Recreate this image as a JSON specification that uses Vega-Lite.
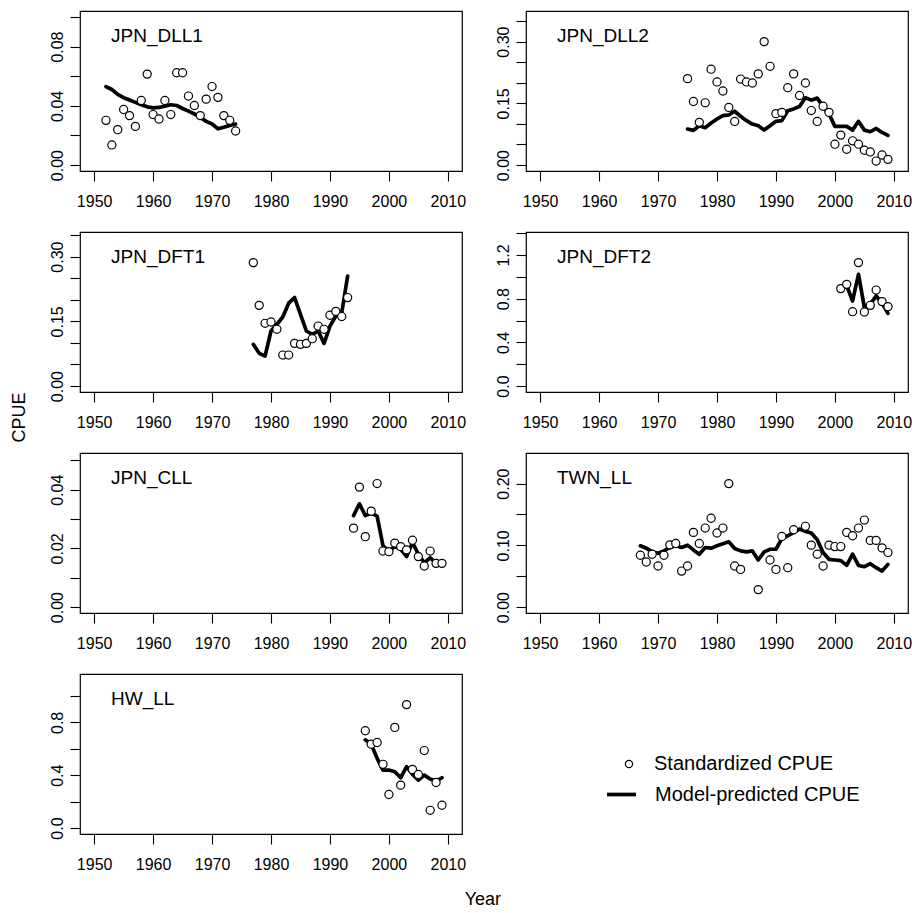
{
  "$schema": "https://vega.github.io/schema/vega-lite/v6.json",
  "padding": {"left": 11, "top": 10, "right": 5, "bottom": 5},
  "background": "white",
  "config": {
    "font": "Liberation Sans",
    "view": {"stroke": "black", "strokeWidth": 1.2},
    "axis": {"domain": false, "grid": false, "ticks": true, "tickColor": "black", "tickSize": 10, "tickWidth": 1.1, "labelColor": "black", "labelFontSize": 16, "labelFont": "Liberation Sans", "title": null, "labelOverlap": false, "labelFlush": false},
    "axisY": {"labelAngle": 270, "labelAlign": "center", "labelBaseline": "alphabetic", "labelPadding": 8},
    "axisX": {"labelBaseline": "alphabetic", "labelPadding": 25, "labelAngle": 0, "labelAlign": "center"},
    "title": {"fontWeight": "normal", "color": "black", "font": "Liberation Sans"},
    "legend": {"title": null, "padding": 0, "labelFontSize": 20, "labelFont": "Liberation Sans", "labelColor": "black", "labelLimit": 0, "symbolOpacity": 1}
  },
  "datasets": {
    "cpue": [
      {"fleet": "JPN_DLL1", "year": 1952, "obs": 0.0302, "pred": 0.053},
      {"fleet": "JPN_DLL1", "year": 1953, "obs": 0.0136, "pred": 0.051},
      {"fleet": "JPN_DLL1", "year": 1954, "obs": 0.0239, "pred": 0.0477},
      {"fleet": "JPN_DLL1", "year": 1955, "obs": 0.0375, "pred": 0.0455},
      {"fleet": "JPN_DLL1", "year": 1956, "obs": 0.0334, "pred": 0.0439},
      {"fleet": "JPN_DLL1", "year": 1957, "obs": 0.0261, "pred": 0.0423},
      {"fleet": "JPN_DLL1", "year": 1958, "obs": 0.0436, "pred": 0.0407},
      {"fleet": "JPN_DLL1", "year": 1959, "obs": 0.0614, "pred": 0.0393},
      {"fleet": "JPN_DLL1", "year": 1960, "obs": 0.0341, "pred": 0.0386},
      {"fleet": "JPN_DLL1", "year": 1961, "obs": 0.0311, "pred": 0.0389},
      {"fleet": "JPN_DLL1", "year": 1962, "obs": 0.0436, "pred": 0.0398},
      {"fleet": "JPN_DLL1", "year": 1963, "obs": 0.0341, "pred": 0.0407},
      {"fleet": "JPN_DLL1", "year": 1964, "obs": 0.0623, "pred": 0.0402},
      {"fleet": "JPN_DLL1", "year": 1965, "obs": 0.0623, "pred": 0.0382},
      {"fleet": "JPN_DLL1", "year": 1966, "obs": 0.0466, "pred": 0.0364},
      {"fleet": "JPN_DLL1", "year": 1967, "obs": 0.0402, "pred": 0.0345},
      {"fleet": "JPN_DLL1", "year": 1968, "obs": 0.0334, "pred": 0.0323},
      {"fleet": "JPN_DLL1", "year": 1969, "obs": 0.0445, "pred": 0.0295},
      {"fleet": "JPN_DLL1", "year": 1970, "obs": 0.053, "pred": 0.0277},
      {"fleet": "JPN_DLL1", "year": 1971, "obs": 0.0457, "pred": 0.0245},
      {"fleet": "JPN_DLL1", "year": 1972, "obs": 0.0334, "pred": 0.0255},
      {"fleet": "JPN_DLL1", "year": 1973, "obs": 0.0302, "pred": 0.0268},
      {"fleet": "JPN_DLL1", "year": 1974, "obs": 0.023, "pred": 0.0277},

      {"fleet": "JPN_DLL2", "year": 1975, "obs": 0.21, "pred": 0.0875},
      {"fleet": "JPN_DLL2", "year": 1976, "obs": 0.1545, "pred": 0.0842},
      {"fleet": "JPN_DLL2", "year": 1977, "obs": 0.1038, "pred": 0.0956},
      {"fleet": "JPN_DLL2", "year": 1978, "obs": 0.1513, "pred": 0.0907},
      {"fleet": "JPN_DLL2", "year": 1979, "obs": 0.233, "pred": 0.1022},
      {"fleet": "JPN_DLL2", "year": 1980, "obs": 0.202, "pred": 0.112},
      {"fleet": "JPN_DLL2", "year": 1981, "obs": 0.18, "pred": 0.1202},
      {"fleet": "JPN_DLL2", "year": 1982, "obs": 0.14, "pred": 0.1218},
      {"fleet": "JPN_DLL2", "year": 1983, "obs": 0.106, "pred": 0.1308},
      {"fleet": "JPN_DLL2", "year": 1984, "obs": 0.209, "pred": 0.1186},
      {"fleet": "JPN_DLL2", "year": 1985, "obs": 0.202, "pred": 0.1079},
      {"fleet": "JPN_DLL2", "year": 1986, "obs": 0.1995, "pred": 0.0997},
      {"fleet": "JPN_DLL2", "year": 1987, "obs": 0.2216, "pred": 0.0957},
      {"fleet": "JPN_DLL2", "year": 1988, "obs": 0.3, "pred": 0.085},
      {"fleet": "JPN_DLL2", "year": 1989, "obs": 0.24, "pred": 0.0957},
      {"fleet": "JPN_DLL2", "year": 1990, "obs": 0.125, "pred": 0.1063},
      {"fleet": "JPN_DLL2", "year": 1991, "obs": 0.128, "pred": 0.1079},
      {"fleet": "JPN_DLL2", "year": 1992, "obs": 0.188, "pred": 0.132},
      {"fleet": "JPN_DLL2", "year": 1993, "obs": 0.2216, "pred": 0.1365},
      {"fleet": "JPN_DLL2", "year": 1994, "obs": 0.169, "pred": 0.1422},
      {"fleet": "JPN_DLL2", "year": 1995, "obs": 0.1995, "pred": 0.1635},
      {"fleet": "JPN_DLL2", "year": 1996, "obs": 0.1325, "pred": 0.1578},
      {"fleet": "JPN_DLL2", "year": 1997, "obs": 0.106, "pred": 0.1627},
      {"fleet": "JPN_DLL2", "year": 1998, "obs": 0.143, "pred": 0.1422},
      {"fleet": "JPN_DLL2", "year": 1999, "obs": 0.128, "pred": 0.124},
      {"fleet": "JPN_DLL2", "year": 2000, "obs": 0.0507, "pred": 0.094},
      {"fleet": "JPN_DLL2", "year": 2001, "obs": 0.0728, "pred": 0.094},
      {"fleet": "JPN_DLL2", "year": 2002, "obs": 0.0384, "pred": 0.094},
      {"fleet": "JPN_DLL2", "year": 2003, "obs": 0.0589, "pred": 0.085},
      {"fleet": "JPN_DLL2", "year": 2004, "obs": 0.0507, "pred": 0.1063},
      {"fleet": "JPN_DLL2", "year": 2005, "obs": 0.036, "pred": 0.085},
      {"fleet": "JPN_DLL2", "year": 2006, "obs": 0.0319, "pred": 0.081},
      {"fleet": "JPN_DLL2", "year": 2007, "obs": 0.0098, "pred": 0.0891},
      {"fleet": "JPN_DLL2", "year": 2008, "obs": 0.0245, "pred": 0.0793},
      {"fleet": "JPN_DLL2", "year": 2009, "obs": 0.0139, "pred": 0.072},

      {"fleet": "JPN_DFT1", "year": 1977, "obs": 0.286, "pred": 0.0967},
      {"fleet": "JPN_DFT1", "year": 1978, "obs": 0.187, "pred": 0.0758},
      {"fleet": "JPN_DFT1", "year": 1979, "obs": 0.1454, "pred": 0.0696},
      {"fleet": "JPN_DFT1", "year": 1980, "obs": 0.1485, "pred": 0.1276},
      {"fleet": "JPN_DFT1", "year": 1981, "obs": 0.1315, "pred": 0.143},
      {"fleet": "JPN_DFT1", "year": 1982, "obs": 0.0719, "pred": 0.16},
      {"fleet": "JPN_DFT1", "year": 1983, "obs": 0.0719, "pred": 0.192},
      {"fleet": "JPN_DFT1", "year": 1984, "obs": 0.099, "pred": 0.205},
      {"fleet": "JPN_DFT1", "year": 1985, "obs": 0.0967, "pred": 0.166},
      {"fleet": "JPN_DFT1", "year": 1986, "obs": 0.099, "pred": 0.1276},
      {"fleet": "JPN_DFT1", "year": 1987, "obs": 0.1098, "pred": 0.12},
      {"fleet": "JPN_DFT1", "year": 1988, "obs": 0.139, "pred": 0.1276},
      {"fleet": "JPN_DFT1", "year": 1989, "obs": 0.1315, "pred": 0.099},
      {"fleet": "JPN_DFT1", "year": 1990, "obs": 0.164, "pred": 0.139},
      {"fleet": "JPN_DFT1", "year": 1991, "obs": 0.173, "pred": 0.162},
      {"fleet": "JPN_DFT1", "year": 1992, "obs": 0.161, "pred": 0.17},
      {"fleet": "JPN_DFT1", "year": 1993, "obs": 0.205, "pred": 0.255},

      {"fleet": "JPN_DFT2", "year": 2001, "obs": 0.892, "pred": 0.89},
      {"fleet": "JPN_DFT2", "year": 2002, "obs": 0.931, "pred": 0.92},
      {"fleet": "JPN_DFT2", "year": 2003, "obs": 0.681, "pred": 0.779},
      {"fleet": "JPN_DFT2", "year": 2004, "obs": 1.13, "pred": 1.023},
      {"fleet": "JPN_DFT2", "year": 2005, "obs": 0.678, "pred": 0.72},
      {"fleet": "JPN_DFT2", "year": 2006, "obs": 0.739, "pred": 0.75},
      {"fleet": "JPN_DFT2", "year": 2007, "obs": 0.879, "pred": 0.824},
      {"fleet": "JPN_DFT2", "year": 2008, "obs": 0.773, "pred": 0.76},
      {"fleet": "JPN_DFT2", "year": 2009, "obs": 0.727, "pred": 0.665},

      {"fleet": "JPN_CLL", "year": 1994, "obs": 0.0269, "pred": 0.0312},
      {"fleet": "JPN_CLL", "year": 1995, "obs": 0.0409, "pred": 0.0352},
      {"fleet": "JPN_CLL", "year": 1996, "obs": 0.024, "pred": 0.0312},
      {"fleet": "JPN_CLL", "year": 1997, "obs": 0.0327, "pred": 0.032},
      {"fleet": "JPN_CLL", "year": 1998, "obs": 0.0421, "pred": 0.031},
      {"fleet": "JPN_CLL", "year": 1999, "obs": 0.0191, "pred": 0.0209},
      {"fleet": "JPN_CLL", "year": 2000, "obs": 0.0189, "pred": 0.019},
      {"fleet": "JPN_CLL", "year": 2001, "obs": 0.0218, "pred": 0.0206},
      {"fleet": "JPN_CLL", "year": 2002, "obs": 0.0206, "pred": 0.0197},
      {"fleet": "JPN_CLL", "year": 2003, "obs": 0.0195, "pred": 0.0172},
      {"fleet": "JPN_CLL", "year": 2004, "obs": 0.0228, "pred": 0.022},
      {"fleet": "JPN_CLL", "year": 2005, "obs": 0.0172, "pred": 0.018},
      {"fleet": "JPN_CLL", "year": 2006, "obs": 0.014, "pred": 0.0151},
      {"fleet": "JPN_CLL", "year": 2007, "obs": 0.0191, "pred": 0.0168},
      {"fleet": "JPN_CLL", "year": 2008, "obs": 0.0149, "pred": 0.0151},
      {"fleet": "JPN_CLL", "year": 2009, "obs": 0.0149, "pred": 0.0149},

      {"fleet": "TWN_LL", "year": 1967, "obs": 0.0839, "pred": 0.0992},
      {"fleet": "TWN_LL", "year": 1968, "obs": 0.073, "pred": 0.0954},
      {"fleet": "TWN_LL", "year": 1969, "obs": 0.0856, "pred": 0.0894},
      {"fleet": "TWN_LL", "year": 1970, "obs": 0.0665, "pred": 0.0872},
      {"fleet": "TWN_LL", "year": 1971, "obs": 0.0839, "pred": 0.091},
      {"fleet": "TWN_LL", "year": 1972, "obs": 0.1008, "pred": 0.0965},
      {"fleet": "TWN_LL", "year": 1973, "obs": 0.103, "pred": 0.0992},
      {"fleet": "TWN_LL", "year": 1974, "obs": 0.0583, "pred": 0.0965},
      {"fleet": "TWN_LL", "year": 1975, "obs": 0.0665, "pred": 0.1003},
      {"fleet": "TWN_LL", "year": 1976, "obs": 0.121, "pred": 0.0926},
      {"fleet": "TWN_LL", "year": 1977, "obs": 0.103, "pred": 0.0856},
      {"fleet": "TWN_LL", "year": 1978, "obs": 0.128, "pred": 0.0965},
      {"fleet": "TWN_LL", "year": 1979, "obs": 0.1439, "pred": 0.0954},
      {"fleet": "TWN_LL", "year": 1980, "obs": 0.12, "pred": 0.0992},
      {"fleet": "TWN_LL", "year": 1981, "obs": 0.128, "pred": 0.1025},
      {"fleet": "TWN_LL", "year": 1982, "obs": 0.2, "pred": 0.1057},
      {"fleet": "TWN_LL", "year": 1983, "obs": 0.0665, "pred": 0.0948},
      {"fleet": "TWN_LL", "year": 1984, "obs": 0.061, "pred": 0.091},
      {"fleet": "TWN_LL", "year": 1985, "obs": null, "pred": 0.0894},
      {"fleet": "TWN_LL", "year": 1986, "obs": null, "pred": 0.091},
      {"fleet": "TWN_LL", "year": 1987, "obs": 0.0283, "pred": 0.0763},
      {"fleet": "TWN_LL", "year": 1988, "obs": null, "pred": 0.0894},
      {"fleet": "TWN_LL", "year": 1989, "obs": 0.0763, "pred": 0.0937},
      {"fleet": "TWN_LL", "year": 1990, "obs": 0.061, "pred": 0.0937},
      {"fleet": "TWN_LL", "year": 1991, "obs": 0.1144, "pred": 0.111},
      {"fleet": "TWN_LL", "year": 1992, "obs": 0.0638, "pred": 0.1155},
      {"fleet": "TWN_LL", "year": 1993, "obs": 0.1253, "pred": 0.121},
      {"fleet": "TWN_LL", "year": 1994, "obs": null, "pred": 0.1264},
      {"fleet": "TWN_LL", "year": 1995, "obs": 0.1308, "pred": 0.1226},
      {"fleet": "TWN_LL", "year": 1996, "obs": 0.1003, "pred": 0.12},
      {"fleet": "TWN_LL", "year": 1997, "obs": 0.0856, "pred": 0.109},
      {"fleet": "TWN_LL", "year": 1998, "obs": 0.0665, "pred": 0.0883},
      {"fleet": "TWN_LL", "year": 1999, "obs": 0.1003, "pred": 0.0774},
      {"fleet": "TWN_LL", "year": 2000, "obs": 0.098, "pred": 0.0763},
      {"fleet": "TWN_LL", "year": 2001, "obs": 0.098, "pred": 0.0752},
      {"fleet": "TWN_LL", "year": 2002, "obs": 0.121, "pred": 0.0676},
      {"fleet": "TWN_LL", "year": 2003, "obs": 0.1155, "pred": 0.0856},
      {"fleet": "TWN_LL", "year": 2004, "obs": 0.128, "pred": 0.0676},
      {"fleet": "TWN_LL", "year": 2005, "obs": 0.141, "pred": 0.0654},
      {"fleet": "TWN_LL", "year": 2006, "obs": 0.108, "pred": 0.0703},
      {"fleet": "TWN_LL", "year": 2007, "obs": 0.108, "pred": 0.0638},
      {"fleet": "TWN_LL", "year": 2008, "obs": 0.0959, "pred": 0.0583},
      {"fleet": "TWN_LL", "year": 2009, "obs": 0.0883, "pred": 0.0692},

      {"fleet": "HW_LL", "year": 1996, "obs": 0.7365, "pred": 0.668},
      {"fleet": "HW_LL", "year": 1997, "obs": 0.635, "pred": 0.635},
      {"fleet": "HW_LL", "year": 1998, "obs": 0.6476, "pred": 0.528},
      {"fleet": "HW_LL", "year": 1999, "obs": 0.4825, "pred": 0.439},
      {"fleet": "HW_LL", "year": 2000, "obs": 0.254, "pred": 0.439},
      {"fleet": "HW_LL", "year": 2001, "obs": 0.762, "pred": 0.427},
      {"fleet": "HW_LL", "year": 2002, "obs": 0.325, "pred": 0.381},
      {"fleet": "HW_LL", "year": 2003, "obs": 0.9346, "pred": 0.465},
      {"fleet": "HW_LL", "year": 2004, "obs": 0.444, "pred": 0.406},
      {"fleet": "HW_LL", "year": 2005, "obs": 0.406, "pred": 0.363},
      {"fleet": "HW_LL", "year": 2006, "obs": 0.5867, "pred": 0.401},
      {"fleet": "HW_LL", "year": 2007, "obs": 0.1346, "pred": 0.371},
      {"fleet": "HW_LL", "year": 2008, "obs": 0.345, "pred": 0.356},
      {"fleet": "HW_LL", "year": 2009, "obs": 0.1727, "pred": 0.381}
    ]
  },
  "data": {"name": "cpue"},
  "title": {"text": "Year", "orient": "bottom", "anchor": "middle", "frame": "bounds", "fontSize": 18, "baseline": "alphabetic", "offset": 32, "dx": 21},
  "vconcat": [
    {
      "title": {"text": "CPUE", "orient": "left", "anchor": "middle", "frame": "bounds", "fontSize": 18, "baseline": "alphabetic", "offset": 5, "dx": 24},
      "columns": 2,
      "spacing": {"row": 61, "column": 64},
      "bounds": "flush",
      "resolve": {"scale": {"stroke": "independent", "color": "independent"}, "legend": {"stroke": "independent", "color": "independent"}},
      "concat": [
        {
          "width": 382, "height": 160,
          "title": {"text": "JPN_DLL1", "orient": "top", "anchor": "start", "frame": "group", "offset": -50, "dx": 31, "baseline": "alphabetic", "fontSize": 19},
          "transform": [{"filter": "datum.fleet === 'JPN_DLL1'"}],
          "encoding": {"x": {"field": "year", "type": "quantitative", "scale": {"domain": [1947.6, 2012.4], "nice": false, "zero": false}, "axis": {"values": [1950, 1960, 1970, 1980, 1990, 2000, 2010], "format": "d"}}},
          "layer": [
            {"mark": {"type": "line", "color": "black", "strokeWidth": 3.7, "strokeJoin": "round", "strokeCap": "round"},
             "encoding": {"y": {"field": "pred", "type": "quantitative", "scale": {"domain": [-0.004, 0.104], "nice": false, "zero": false}, "axis": {"values": [0, 0.02, 0.04, 0.06, 0.08, 0.1], "labelExpr": "indexof(['0.00','0.04','0.08'], format(datum.value, '.2f')) >= 0 ? format(datum.value, '.2f') : ''"}}}},
            {"mark": {"type": "point", "shape": "circle", "filled": false, "fill": "white", "stroke": "black", "strokeWidth": 1.2, "size": 66, "opacity": 1},
             "encoding": {"y": {"field": "obs", "type": "quantitative", "scale": {"domain": [-0.004, 0.104], "nice": false, "zero": false}, "axis": {"values": [0, 0.02, 0.04, 0.06, 0.08, 0.1], "labelExpr": "indexof(['0.00','0.04','0.08'], format(datum.value, '.2f')) >= 0 ? format(datum.value, '.2f') : ''"}}}}
          ]
        },
        {
          "width": 382, "height": 160,
          "title": {"text": "JPN_DLL2", "orient": "top", "anchor": "start", "frame": "group", "offset": -50, "dx": 31, "baseline": "alphabetic", "fontSize": 19},
          "transform": [{"filter": "datum.fleet === 'JPN_DLL2'"}],
          "encoding": {"x": {"field": "year", "type": "quantitative", "scale": {"domain": [1947.6, 2012.4], "nice": false, "zero": false}, "axis": {"values": [1950, 1960, 1970, 1980, 1990, 2000, 2010], "format": "d"}}},
          "layer": [
            {"mark": {"type": "line", "color": "black", "strokeWidth": 3.7, "strokeJoin": "round", "strokeCap": "round"},
             "encoding": {"y": {"field": "pred", "type": "quantitative", "scale": {"domain": [-0.0144, 0.3744], "nice": false, "zero": false}, "axis": {"values": [0, 0.05, 0.1, 0.15, 0.2, 0.25, 0.3, 0.35], "labelExpr": "indexof(['0.00','0.15','0.30'], format(datum.value, '.2f')) >= 0 ? format(datum.value, '.2f') : ''"}}}},
            {"mark": {"type": "point", "shape": "circle", "filled": false, "fill": "white", "stroke": "black", "strokeWidth": 1.2, "size": 66, "opacity": 1},
             "encoding": {"y": {"field": "obs", "type": "quantitative", "scale": {"domain": [-0.0144, 0.3744], "nice": false, "zero": false}, "axis": {"values": [0, 0.05, 0.1, 0.15, 0.2, 0.25, 0.3, 0.35], "labelExpr": "indexof(['0.00','0.15','0.30'], format(datum.value, '.2f')) >= 0 ? format(datum.value, '.2f') : ''"}}}}
          ]
        },
        {
          "width": 382, "height": 160,
          "title": {"text": "JPN_DFT1", "orient": "top", "anchor": "start", "frame": "group", "offset": -50, "dx": 31, "baseline": "alphabetic", "fontSize": 19},
          "transform": [{"filter": "datum.fleet === 'JPN_DFT1'"}],
          "encoding": {"x": {"field": "year", "type": "quantitative", "scale": {"domain": [1947.6, 2012.4], "nice": false, "zero": false}, "axis": {"values": [1950, 1960, 1970, 1980, 1990, 2000, 2010], "format": "d"}}},
          "layer": [
            {"mark": {"type": "line", "color": "black", "strokeWidth": 3.7, "strokeJoin": "round", "strokeCap": "round"},
             "encoding": {"y": {"field": "pred", "type": "quantitative", "scale": {"domain": [-0.0137, 0.3569], "nice": false, "zero": false}, "axis": {"values": [0, 0.05, 0.1, 0.15, 0.2, 0.25, 0.3, 0.35], "labelExpr": "indexof(['0.00','0.15','0.30'], format(datum.value, '.2f')) >= 0 ? format(datum.value, '.2f') : ''"}}}},
            {"mark": {"type": "point", "shape": "circle", "filled": false, "fill": "white", "stroke": "black", "strokeWidth": 1.2, "size": 66, "opacity": 1},
             "encoding": {"y": {"field": "obs", "type": "quantitative", "scale": {"domain": [-0.0137, 0.3569], "nice": false, "zero": false}, "axis": {"values": [0, 0.05, 0.1, 0.15, 0.2, 0.25, 0.3, 0.35], "labelExpr": "indexof(['0.00','0.15','0.30'], format(datum.value, '.2f')) >= 0 ? format(datum.value, '.2f') : ''"}}}}
          ]
        },
        {
          "width": 382, "height": 160,
          "title": {"text": "JPN_DFT2", "orient": "top", "anchor": "start", "frame": "group", "offset": -50, "dx": 31, "baseline": "alphabetic", "fontSize": 19},
          "transform": [{"filter": "datum.fleet === 'JPN_DFT2'"}],
          "encoding": {"x": {"field": "year", "type": "quantitative", "scale": {"domain": [1947.6, 2012.4], "nice": false, "zero": false}, "axis": {"values": [1950, 1960, 1970, 1980, 1990, 2000, 2010], "format": "d"}}},
          "layer": [
            {"mark": {"type": "line", "color": "black", "strokeWidth": 3.7, "strokeJoin": "round", "strokeCap": "round"},
             "encoding": {"y": {"field": "pred", "type": "quantitative", "scale": {"domain": [-0.0542, 1.4102], "nice": false, "zero": false}, "axis": {"values": [0, 0.2, 0.4, 0.6, 0.8, 1.0, 1.2, 1.4], "labelExpr": "indexof(['0.0','0.4','0.8','1.2'], format(datum.value, '.1f')) >= 0 ? format(datum.value, '.1f') : ''"}}}},
            {"mark": {"type": "point", "shape": "circle", "filled": false, "fill": "white", "stroke": "black", "strokeWidth": 1.2, "size": 66, "opacity": 1},
             "encoding": {"y": {"field": "obs", "type": "quantitative", "scale": {"domain": [-0.0542, 1.4102], "nice": false, "zero": false}, "axis": {"values": [0, 0.2, 0.4, 0.6, 0.8, 1.0, 1.2, 1.4], "labelExpr": "indexof(['0.0','0.4','0.8','1.2'], format(datum.value, '.1f')) >= 0 ? format(datum.value, '.1f') : ''"}}}}
          ]
        },
        {
          "width": 382, "height": 160,
          "title": {"text": "JPN_CLL", "orient": "top", "anchor": "start", "frame": "group", "offset": -50, "dx": 31, "baseline": "alphabetic", "fontSize": 19},
          "transform": [{"filter": "datum.fleet === 'JPN_CLL'"}],
          "encoding": {"x": {"field": "year", "type": "quantitative", "scale": {"domain": [1947.6, 2012.4], "nice": false, "zero": false}, "axis": {"values": [1950, 1960, 1970, 1980, 1990, 2000, 2010], "format": "d"}}},
          "layer": [
            {"mark": {"type": "line", "color": "black", "strokeWidth": 3.7, "strokeJoin": "round", "strokeCap": "round"},
             "encoding": {"y": {"field": "pred", "type": "quantitative", "scale": {"domain": [-0.00202, 0.05252], "nice": false, "zero": false}, "axis": {"values": [0, 0.01, 0.02, 0.03, 0.04, 0.05], "labelExpr": "indexof(['0.00','0.02','0.04'], format(datum.value, '.2f')) >= 0 ? format(datum.value, '.2f') : ''"}}}},
            {"mark": {"type": "point", "shape": "circle", "filled": false, "fill": "white", "stroke": "black", "strokeWidth": 1.2, "size": 66, "opacity": 1},
             "encoding": {"y": {"field": "obs", "type": "quantitative", "scale": {"domain": [-0.00202, 0.05252], "nice": false, "zero": false}, "axis": {"values": [0, 0.01, 0.02, 0.03, 0.04, 0.05], "labelExpr": "indexof(['0.00','0.02','0.04'], format(datum.value, '.2f')) >= 0 ? format(datum.value, '.2f') : ''"}}}}
          ]
        },
        {
          "width": 382, "height": 160,
          "title": {"text": "TWN_LL", "orient": "top", "anchor": "start", "frame": "group", "offset": -50, "dx": 31, "baseline": "alphabetic", "fontSize": 19},
          "transform": [{"filter": "datum.fleet === 'TWN_LL'"}],
          "encoding": {"x": {"field": "year", "type": "quantitative", "scale": {"domain": [1947.6, 2012.4], "nice": false, "zero": false}, "axis": {"values": [1950, 1960, 1970, 1980, 1990, 2000, 2010], "format": "d"}}},
          "layer": [
            {"mark": {"type": "line", "color": "black", "strokeWidth": 3.7, "strokeJoin": "round", "strokeCap": "round"},
             "encoding": {"y": {"field": "pred", "type": "quantitative", "scale": {"domain": [-0.0096, 0.2496], "nice": false, "zero": false}, "axis": {"values": [0, 0.05, 0.1, 0.15, 0.2], "labelExpr": "indexof(['0.00','0.10','0.20'], format(datum.value, '.2f')) >= 0 ? format(datum.value, '.2f') : ''"}}}},
            {"mark": {"type": "point", "shape": "circle", "filled": false, "fill": "white", "stroke": "black", "strokeWidth": 1.2, "size": 66, "opacity": 1},
             "encoding": {"y": {"field": "obs", "type": "quantitative", "scale": {"domain": [-0.0096, 0.2496], "nice": false, "zero": false}, "axis": {"values": [0, 0.05, 0.1, 0.15, 0.2], "labelExpr": "indexof(['0.00','0.10','0.20'], format(datum.value, '.2f')) >= 0 ? format(datum.value, '.2f') : ''"}}}}
          ]
        },
        {
          "width": 382, "height": 160,
          "title": {"text": "HW_LL", "orient": "top", "anchor": "start", "frame": "group", "offset": -50, "dx": 31, "baseline": "alphabetic", "fontSize": 19},
          "transform": [{"filter": "datum.fleet === 'HW_LL'"}],
          "encoding": {"x": {"field": "year", "type": "quantitative", "scale": {"domain": [1947.6, 2012.4], "nice": false, "zero": false}, "axis": {"values": [1950, 1960, 1970, 1980, 1990, 2000, 2010], "format": "d"}}},
          "layer": [
            {"mark": {"type": "line", "strokeWidth": 3.7, "strokeJoin": "round", "strokeCap": "round"},
             "encoding": {
               "y": {"field": "pred", "type": "quantitative", "scale": {"domain": [-0.0449, 1.1664], "nice": false, "zero": false}, "axis": {"values": [0, 0.2, 0.4, 0.6, 0.8, 1.0], "labelExpr": "indexof(['0.0','0.4','0.8'], format(datum.value, '.1f')) >= 0 ? format(datum.value, '.1f') : ''"}},
               "color": {"datum": "Model-predicted CPUE", "scale": {"domain": ["Model-predicted CPUE"], "range": ["black"]},
                 "legend": {"orient": "none", "legendX": 525, "legendY": 104, "symbolType": "stroke", "symbolSize": 841, "symbolStrokeWidth": 3.7, "symbolStrokeColor": "black", "labelOffset": 17}}
             }},
            {"mark": {"type": "point", "shape": "circle", "filled": false, "fill": "white", "strokeWidth": 1.2, "size": 66, "opacity": 1},
             "encoding": {
               "y": {"field": "obs", "type": "quantitative", "scale": {"domain": [-0.0449, 1.1664], "nice": false, "zero": false}, "axis": {"values": [0, 0.2, 0.4, 0.6, 0.8, 1.0], "labelExpr": "indexof(['0.0','0.4','0.8'], format(datum.value, '.1f')) >= 0 ? format(datum.value, '.1f') : ''"}},
               "stroke": {"datum": "Standardized CPUE", "scale": {"domain": ["Standardized CPUE"], "range": ["black"]},
                 "legend": {"orient": "none", "legendX": 539, "legendY": 80, "symbolType": "circle", "symbolSize": 52, "symbolStrokeWidth": 1.2, "symbolFillColor": "white", "labelOffset": 15}}
             }}
          ]
        }
      ]
    }
  ]
}
